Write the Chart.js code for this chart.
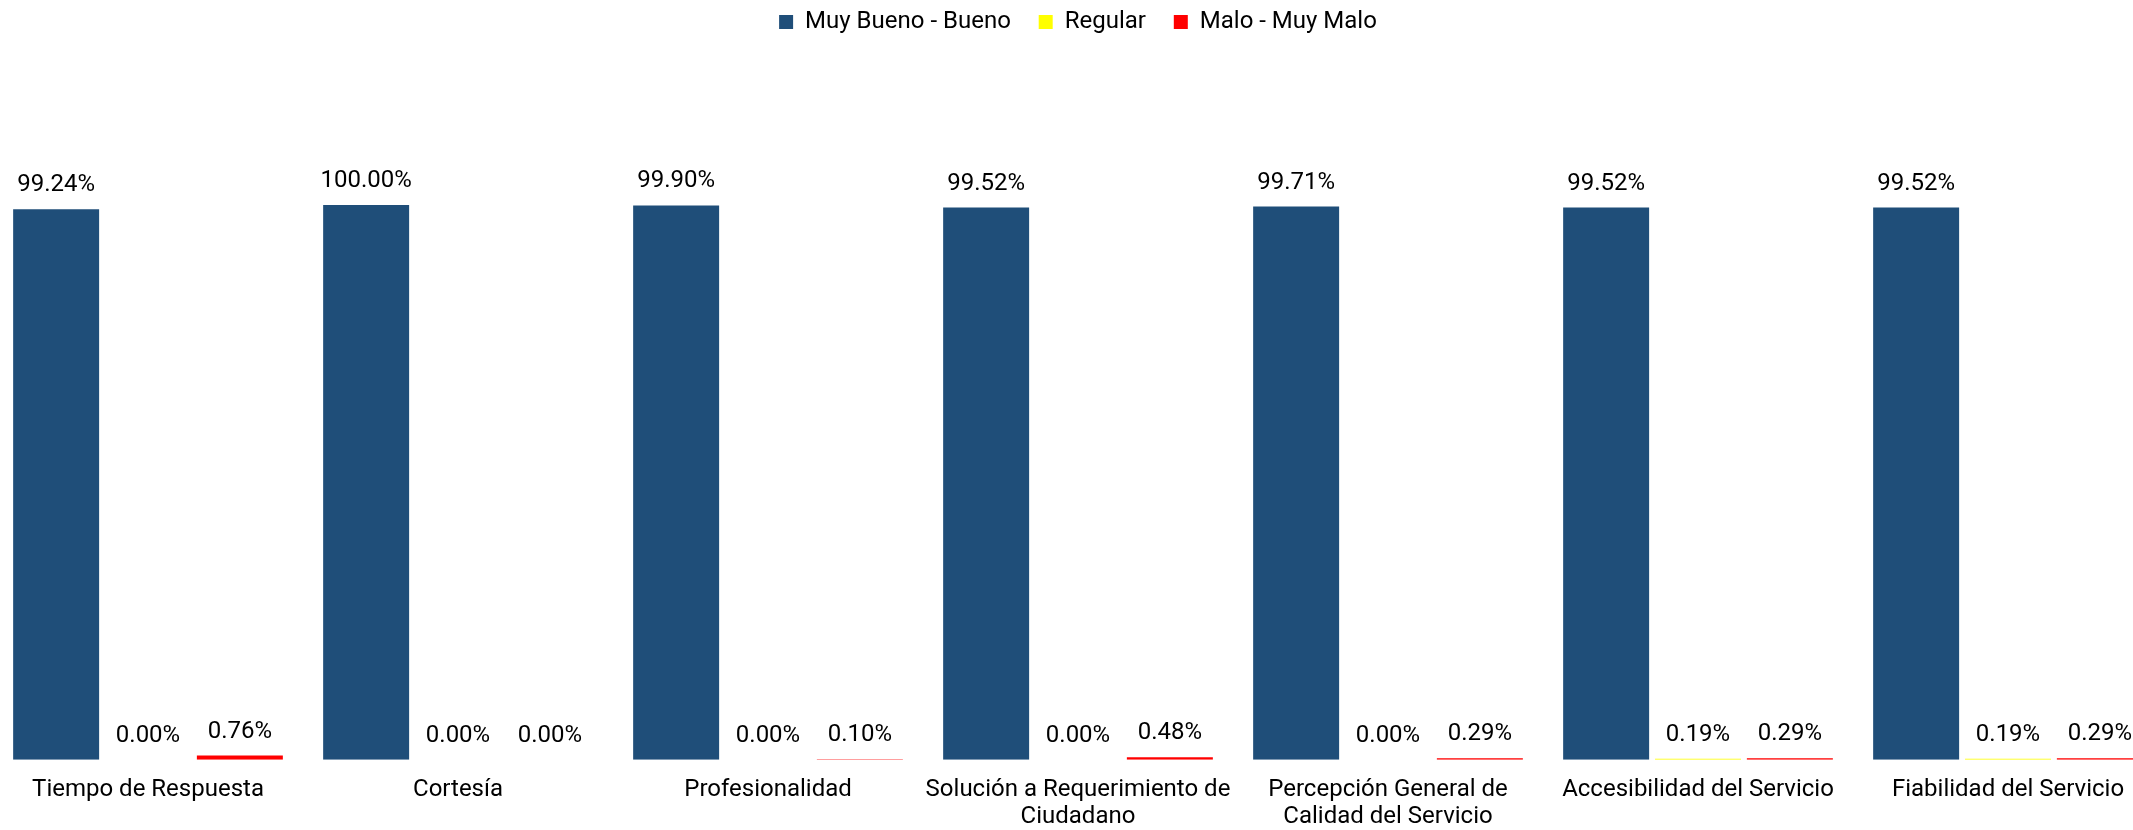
<!DOCTYPE html>
<html>
<head>
<meta charset="utf-8">
<script src="https://cdn.jsdelivr.net/npm/chart.js@4.4.1/dist/chart.umd.min.js"></script>
<style>
  html, body { margin: 0; padding: 0; background: #ffffff; overflow: hidden; }
  #wrap { position: absolute; left: -7px; top: 0; width: 2170px; height: 839px; }
</style>
</head>
<body>
<div id="wrap"><canvas id="c"></canvas></div>
<script>
const categories = [
  'Tiempo de Respuesta',
  'Cortesía',
  'Profesionalidad',
  ['Solución a Requerimiento de', 'Ciudadano'],
  ['Percepción General de', 'Calidad del Servicio'],
  'Accesibilidad del Servicio',
  'Fiabilidad del Servicio'
];
const seriesNames = ['Muy Bueno - Bueno', 'Regular', 'Malo - Muy Malo'];
const muyBuenoBueno = [99.24, 100.00, 99.90, 99.52, 99.71, 99.52, 99.52];
const regular       = [0.00, 0.00, 0.00, 0.00, 0.00, 0.19, 0.19];
const maloMuyMalo   = [0.76, 0.00, 0.10, 0.48, 0.29, 0.29, 0.29];
const seriesColors = ['#1F4E79', '#FFFF00', '#FF0000'];
const yMax = 129;

const valueLabels = {
  id: 'valueLabels',
  afterDatasetsDraw(chart) {
    const ctx = chart.ctx;
    ctx.save();
    ctx.font = '24px Roboto';
    ctx.fillStyle = '#000000';
    ctx.textAlign = 'center';
    ctx.textBaseline = 'alphabetic';
    chart.data.datasets.forEach((ds, i) => {
      const meta = chart.getDatasetMeta(i);
      meta.data.forEach((bar, j) => {
        ctx.fillText(ds.data[j].toFixed(2) + '%', bar.x, bar.y - 18);
      });
    });
    ctx.restore();
  }
};

const legendPad = ['   ', '   ', ''];

new Chart(document.getElementById('c'), {
  type: 'bar',
  data: {
    labels: categories,
    datasets: [
      { label: seriesNames[0], data: muyBuenoBueno, backgroundColor: seriesColors[0] },
      { label: seriesNames[1], data: regular, backgroundColor: seriesColors[1] },
      { label: seriesNames[2], data: maloMuyMalo, backgroundColor: seriesColors[2] }
    ]
  },
  options: {
    responsive: true,
    maintainAspectRatio: false,
    animation: false,
    layout: { padding: 0 },
    datasets: { bar: { categoryPercentage: 0.889, barPercentage: 0.936, borderWidth: 0 } },
    plugins: {
      legend: {
        position: 'top',
        labels: {
          boxWidth: 14,
          boxHeight: 14,
          padding: 10,
          color: '#000000',
          font: { family: 'Roboto', size: 24 },
          generateLabels(chart) {
            return chart.data.datasets.map((ds, i) => ({
              text: ds.label + legendPad[i],
              fillStyle: ds.backgroundColor,
              strokeStyle: ds.backgroundColor,
              lineWidth: 0,
              hidden: false,
              datasetIndex: i
            }));
          }
        }
      },
      tooltip: { enabled: false }
    },
    scales: {
      x: {
        grid: { display: false },
        border: { display: false },
        ticks: {
          autoSkip: false,
          maxRotation: 0,
          minRotation: 0,
          padding: 8,
          color: '#000000',
          font: { family: 'Roboto', size: 24, lineHeight: 1.15 }
        }
      },
      y: {
        display: false,
        min: 0,
        max: yMax
      }
    }
  },
  plugins: [valueLabels]
});
</script>
</body>
</html>
